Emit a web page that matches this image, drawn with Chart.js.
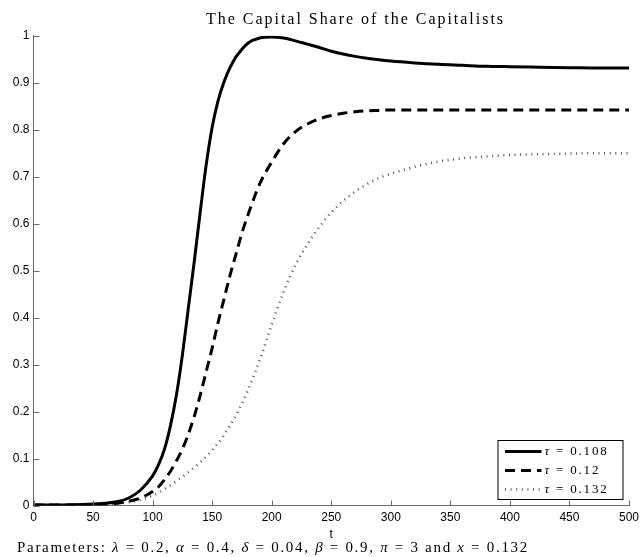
<!DOCTYPE html>
<html><head><meta charset="utf-8">
<script src="https://cdn.jsdelivr.net/npm/chart.js"></script>
<style>html,body{margin:0;padding:0;background:#fff}</style>
</head><body>
<canvas id="c" width="640" height="557"></canvas>
<script>
// ---- data ----
const tValues = [0, 20, 40, 50, 60, 70, 80, 90, 100, 105, 110, 115, 120, 125, 130, 135, 140, 145, 150, 155, 160, 165, 170, 175, 180, 190, 200, 210, 220, 230, 240, 250, 260, 270, 280, 290, 300, 320, 340, 360, 380, 400, 425, 450, 475, 500];
const share108 = [0.001, 0.001, 0.002, 0.003, 0.005, 0.008, 0.016, 0.033, 0.063, 0.087, 0.12, 0.17, 0.235, 0.32, 0.42, 0.52, 0.625, 0.725, 0.805, 0.862, 0.902, 0.932, 0.955, 0.971, 0.984, 0.995, 0.997, 0.995, 0.989, 0.982, 0.975, 0.967, 0.961, 0.956, 0.952, 0.949, 0.946, 0.942, 0.939, 0.937, 0.935, 0.934, 0.933, 0.932, 0.931, 0.931];
const share12 = [0.001, 0.001, 0.001, 0.002, 0.003, 0.005, 0.009, 0.016, 0.03, 0.04, 0.055, 0.073, 0.095, 0.12, 0.152, 0.19, 0.235, 0.285, 0.335, 0.39, 0.44, 0.49, 0.535, 0.58, 0.618, 0.685, 0.731, 0.77, 0.796, 0.812, 0.823, 0.83, 0.835, 0.838, 0.84, 0.841, 0.842, 0.842, 0.842, 0.842, 0.842, 0.842, 0.842, 0.842, 0.842, 0.842];
const share132 = [0.001, 0.001, 0.001, 0.001, 0.002, 0.004, 0.007, 0.012, 0.021, 0.027, 0.035, 0.043, 0.052, 0.061, 0.071, 0.081, 0.092, 0.104, 0.118, 0.133, 0.15, 0.17, 0.192, 0.217, 0.245, 0.31, 0.385, 0.455, 0.512, 0.556, 0.593, 0.624, 0.648, 0.668, 0.684, 0.697, 0.706, 0.721, 0.732, 0.739, 0.743, 0.746, 0.748, 0.749, 0.75, 0.75];
const seriesLabels = ['τ = 0.108', 'τ = 0.12', 'τ = 0.132'];
const titleText = 'The Capital Share of the Capitalists';
const paramSegments = [
  ['Parameters: ', false], ['λ', true], [' = 0.2, ', false], ['α', true], [' = 0.4, ', false],
  ['δ', true], [' = 0.04, ', false], ['β', true], [' = 0.9, ', false], ['π', true],
  [' = 3 and ', false], ['x', true], [' = 0.132', false]
];
const xAxisLabel = 't';

const toPts = arr => tValues.map((t, i) => ({x: t, y: arr[i]}));

const AXIS_COLOR = '#6a6a6a';
const SERIF = '"Liberation Serif", "DejaVu Serif", serif';
const SANS = '"Liberation Sans", Arial, sans-serif';

function drawSegments(ctx, segs, left, targetWidth, y, size, fixedLs) {
  ctx.save();
  ctx.letterSpacing = '0px';
  ctx.textBaseline = 'middle';
  ctx.textAlign = 'left';
  ctx.fillStyle = '#000';
  let natural = 0, chars = 0;
  const widths = segs.map(([txt, it]) => {
    ctx.font = (it ? 'italic ' : '') + size + 'px ' + SERIF;
    const w = ctx.measureText(txt).width;
    natural += w; chars += [...txt].length;
    return w;
  });
  const ls = fixedLs !== undefined ? fixedLs : (targetWidth - natural) / chars;
  let x = left;
  segs.forEach(([txt, it], i) => {
    ctx.font = (it ? 'italic ' : '') + size + 'px ' + SERIF;
    ctx.letterSpacing = ls + 'px';
    ctx.fillText(txt, x, y);
    x += widths[i] + ls * [...txt].length;
  });
  ctx.restore();
  return ls;
}

const decorPlugin = {
  id: 'decor',
  afterDraw(chart) {
    const ctx = chart.ctx;
    const xs = chart.scales.x, ys = chart.scales.y;
    const ca = chart.chartArea;
    // inward ticks
    ctx.save();
    ctx.strokeStyle = AXIS_COLOR;
    ctx.lineWidth = 1;
    ctx.beginPath();
    xs.ticks.forEach(tk => {
      const px = Math.round(xs.getPixelForValue(tk.value)) + 0.5;
      ctx.moveTo(px, ca.bottom); ctx.lineTo(px, ca.bottom - 5);
    });
    ys.ticks.forEach(tk => {
      const py = Math.round(ys.getPixelForValue(tk.value)) + 0.5;
      ctx.moveTo(ca.left, py); ctx.lineTo(ca.left + 6, py);
    });
    ctx.stroke();
    ctx.restore();

    // title
    drawSegments(ctx, [[titleText, false]], 206, 299, 19.5, 16);
    // parameters line
    drawSegments(ctx, paramSegments, 17, 512, 548, 15);

    // legend
    const bx = ca.right - 131.5, by = ca.bottom - 65.5, bw = 125, bh = 59;
    ctx.save();
    ctx.fillStyle = '#fff';
    ctx.fillRect(bx, by, bw, bh);
    ctx.strokeStyle = '#000';
    ctx.lineWidth = 1;
    ctx.strokeRect(bx + 0.5, by + 0.5, bw, bh);
    ctx.restore();
    const rows = [by + 11.5, by + 30.5, by + 49.5];
    let ls;
    chart.data.datasets.forEach((ds, i) => {
      const y = rows[i];
      ctx.save();
      ctx.strokeStyle = ds.borderColor;
      ctx.lineWidth = ds.borderWidth;
      ctx.setLineDash(ds.borderDash || []);
      ctx.lineCap = 'butt';
      ctx.beginPath();
      ctx.moveTo(bx + 7.5, y); ctx.lineTo(bx + 44, y);
      ctx.stroke();
      ctx.restore();
      const lbl = ds.label;
      const segs = [[lbl.slice(0, 1), true], [lbl.slice(1), false]];
      ls = drawSegments(ctx, segs, bx + 47, 64, y, 13, ls);
    });
  }
};

new Chart(document.getElementById('c'), {
  type: 'line',
  data: {
    datasets: [
      {label: seriesLabels[0], data: toPts(share108), borderColor: '#000', borderWidth: 3, borderDash: [], pointRadius: 0, fill: false, cubicInterpolationMode: 'monotone'},
      {label: seriesLabels[1], data: toPts(share12), borderColor: '#000', borderWidth: 3, borderDash: [10, 6], pointRadius: 0, fill: false, cubicInterpolationMode: 'monotone'},
      {label: seriesLabels[2], data: toPts(share132), borderColor: '#555', borderWidth: 2.5, borderDash: [1, 4.6], pointRadius: 0, fill: false, cubicInterpolationMode: 'monotone'}
    ]
  },
  options: {
    responsive: false,
    animation: false,
    devicePixelRatio: 1,
    layout: {padding: {left: 0, right: 11, top: 35.7, bottom: 15.5}},
    plugins: {legend: {display: false}, title: {display: false}, tooltip: {enabled: false}},
    scales: {
      x: {
        type: 'linear', position: 'bottom', min: 0, max: 500,
        grid: {display: false, drawTicks: false},
        border: {display: true, color: AXIS_COLOR, width: 1},
        ticks: {stepSize: 50, padding: 5, color: '#000', font: {family: SANS, size: 12}, maxRotation: 0},
        title: {display: true, text: xAxisLabel, color: '#000', font: {family: SANS, size: 12}, padding: 0},
        afterFit: s => { s.height = 36; s.paddingLeft = 0; s.paddingRight = 0; }
      },
      y: {
        type: 'linear', position: 'left', min: 0, max: 1,
        grid: {display: false, drawTicks: false},
        border: {display: true, color: AXIS_COLOR, width: 1},
        ticks: {stepSize: 0.1, padding: 4, color: '#000', font: {family: SANS, size: 12},
                callback: v => String(Math.round(v * 10) / 10)},
        afterFit: s => { s.width = 33.5; s.paddingTop = 0; s.paddingBottom = 0; }
      }
    }
  },
  plugins: [decorPlugin]
});
</script>
</body></html>
